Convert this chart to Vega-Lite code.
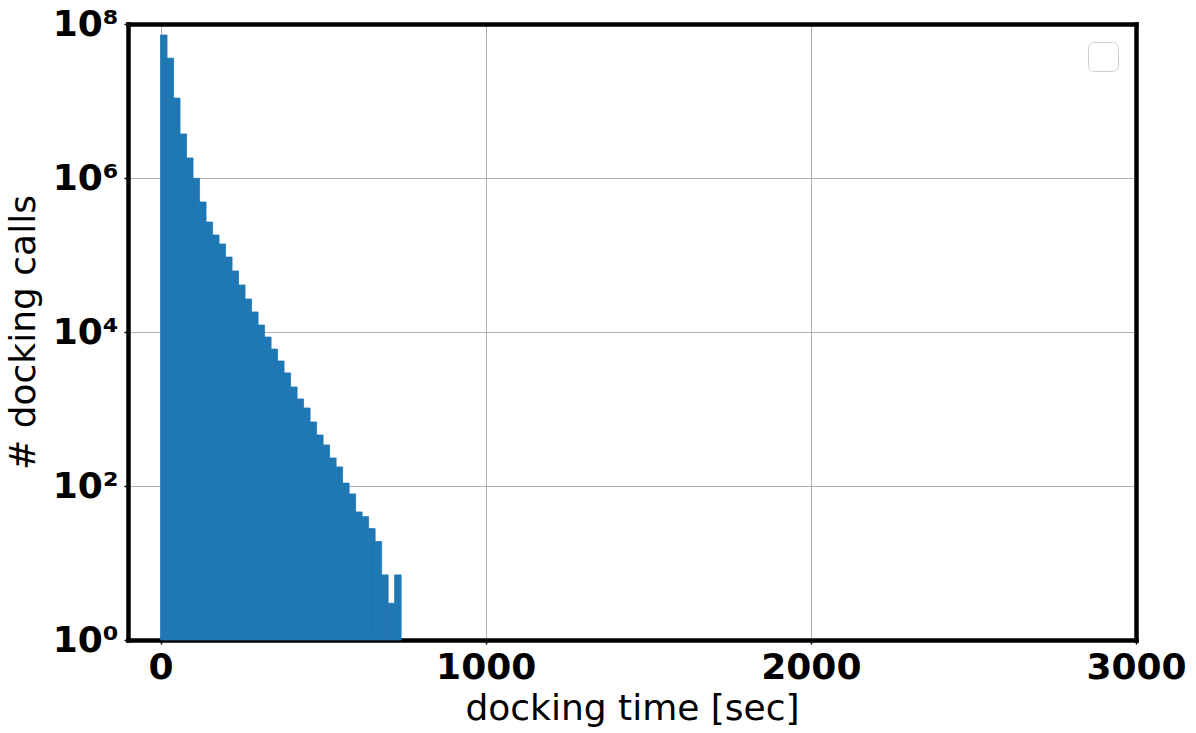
{
  "$schema": "https://vega.github.io/schema/vega-lite/v6.json",
  "width": 1008,
  "height": 616,
  "autosize": {"type": "none"},
  "padding": {"left": 128, "top": 24, "right": 60, "bottom": 93},
  "background": "white",
  "config": {
    "font": "DejaVu Sans",
    "view": {"stroke": null},
    "axis": {
      "zindex": 1,
      "gridColor": "#b0b0b0",
      "gridWidth": 1,
      "gridOpacity": 1,
      "tickColor": "black",
      "tickWidth": 1.5,
      "tickSize": 4,
      "labelFont": "DejaVu Sans",
      "labelFontWeight": "bold",
      "labelFontSize": 36,
      "labelColor": "black",
      "titleFont": "DejaVu Sans",
      "titleFontWeight": "normal",
      "titleFontSize": 36,
      "titleColor": "black",
      "domainColor": "black",
      "domainWidth": 4.5,
      "domainCap": "square"
    },
    "legend": {
      "orient": "top-right",
      "offset": 18,
      "fillColor": "white",
      "strokeColor": "#cccccc",
      "cornerRadius": 6,
      "padding": 9,
      "symbolOpacity": 0,
      "symbolSize": 100,
      "labelOffset": 0,
      "labelFontSize": 1,
      "title": null
    }
  },
  "data": {
    "values": [
      {"start": 0, "end": 20, "count": 72000000, "series": ""},
      {"start": 20, "end": 40, "count": 36000000, "series": ""},
      {"start": 40, "end": 60, "count": 10900000, "series": ""},
      {"start": 60, "end": 80, "count": 3730000, "series": ""},
      {"start": 80, "end": 100, "count": 1820000, "series": ""},
      {"start": 100, "end": 120, "count": 990000, "series": ""},
      {"start": 120, "end": 140, "count": 488000, "series": ""},
      {"start": 140, "end": 160, "count": 268000, "series": ""},
      {"start": 160, "end": 180, "count": 182000, "series": ""},
      {"start": 180, "end": 200, "count": 139000, "series": ""},
      {"start": 200, "end": 220, "count": 94000, "series": ""},
      {"start": 220, "end": 240, "count": 62000, "series": ""},
      {"start": 240, "end": 260, "count": 40800, "series": ""},
      {"start": 260, "end": 280, "count": 26800, "series": ""},
      {"start": 280, "end": 300, "count": 18200, "series": ""},
      {"start": 300, "end": 320, "count": 12300, "series": ""},
      {"start": 320, "end": 340, "count": 8600, "series": ""},
      {"start": 340, "end": 360, "count": 6000, "series": ""},
      {"start": 360, "end": 380, "count": 4200, "series": ""},
      {"start": 380, "end": 400, "count": 2940, "series": ""},
      {"start": 400, "end": 420, "count": 1930, "series": ""},
      {"start": 420, "end": 440, "count": 1350, "series": ""},
      {"start": 440, "end": 460, "count": 1030, "series": ""},
      {"start": 460, "end": 480, "count": 678, "series": ""},
      {"start": 480, "end": 500, "count": 459, "series": ""},
      {"start": 500, "end": 520, "count": 341, "series": ""},
      {"start": 520, "end": 540, "count": 231, "series": ""},
      {"start": 540, "end": 560, "count": 177, "series": ""},
      {"start": 560, "end": 580, "count": 109, "series": ""},
      {"start": 580, "end": 600, "count": 79, "series": ""},
      {"start": 600, "end": 620, "count": 46, "series": ""},
      {"start": 620, "end": 640, "count": 40, "series": ""},
      {"start": 640, "end": 660, "count": 28, "series": ""},
      {"start": 660, "end": 680, "count": 19, "series": ""},
      {"start": 680, "end": 700, "count": 7, "series": ""},
      {"start": 700, "end": 720, "count": 3, "series": ""},
      {"start": 720, "end": 740, "count": 7, "series": ""}
    ]
  },
  "layer": [
    {
      "mark": {"type": "bar", "binSpacing": 0, "stroke": "#1f77b4", "strokeWidth": 0.8},
      "encoding": {
        "x": {
          "field": "start",
          "type": "quantitative",
          "title": "docking time [sec]",
          "scale": {"domain": [-100, 3000], "nice": false, "zero": false},
          "axis": {
            "values": [0, 1000, 2000, 3000],
            "format": "d",
            "labelOverlap": false,
            "labelBound": false,
            "labelFlush": false,
            "labelPadding": 6,
            "titlePadding": 6
          }
        },
        "x2": {"field": "end"},
        "y": {
          "field": "count",
          "type": "quantitative",
          "title": "# docking calls",
          "scale": {"type": "log", "domain": [1, 100000000], "nice": false},
          "axis": {
            "values": [1, 100, 10000, 1000000, 100000000],
            "labelExpr": "'10' + ['⁰','¹','²','³','⁴','⁵','⁶','⁷','⁸'][round(log(datum.value)/LN10)]",
            "labelOverlap": false,
            "labelFlush": false,
            "labelPadding": 6,
            "titlePadding": 10
          }
        },
        "y2": {"datum": 1},
        "color": {
          "field": "series",
          "type": "nominal",
          "scale": {"range": ["#1f77b4"]},
          "legend": {}
        }
      }
    },
    {
      "mark": {"type": "bar", "opacity": 0},
      "encoding": {
        "x": {
          "field": "start",
          "type": "quantitative",
          "axis": {"orient": "top", "labels": false, "ticks": false, "grid": false, "title": null}
        },
        "x2": {"field": "end"},
        "y": {
          "field": "count",
          "type": "quantitative",
          "axis": {"orient": "right", "labels": false, "ticks": false, "grid": false, "title": null}
        },
        "y2": {"datum": 1}
      }
    }
  ],
  "resolve": {"axis": {"x": "independent", "y": "independent"}}
}
